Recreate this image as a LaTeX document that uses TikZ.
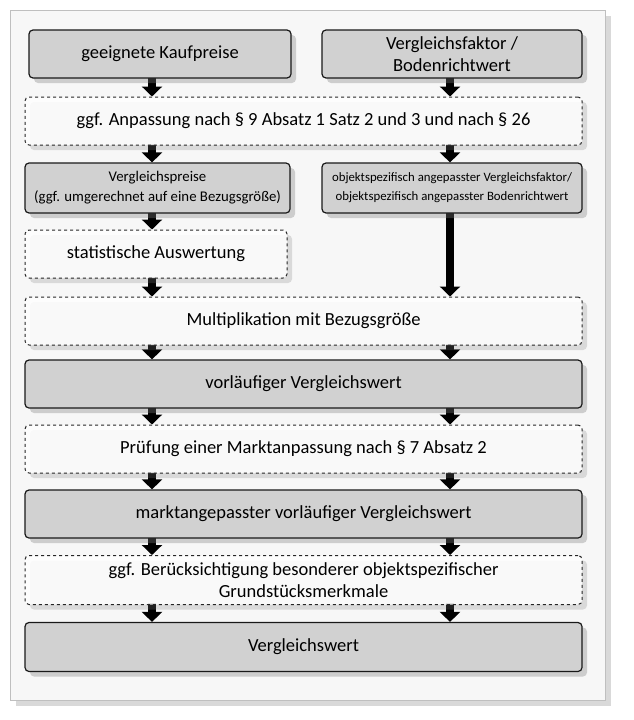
\documentclass[tikz,border=0pt]{standalone}
\usepackage{fontspec}
\setmainfont{Carlito}
\usetikzlibrary{arrows.meta,positioning,backgrounds,shadows}
\begin{document}
\begin{tikzpicture}[
    x=1pt, y=-1pt,
    result/.style={rectangle, draw=black!90, line width=1.2pt, fill=black!18, rounded corners=4pt, font=\fontsize{18.5}{22}\selectfont, align=center, drop shadow={opacity=0.35, shadow xshift=5pt, shadow yshift=-5pt}},
    pass/.style={rectangle, draw=black!85, dashed, line width=1pt, fill=white, fill opacity=0.85, text opacity=1, rounded corners=4pt, font=\fontsize{18.5}{22}\selectfont, align=center, drop shadow={opacity=0.25, shadow xshift=5pt, shadow yshift=-5pt}},
    wide/.style={minimum width=557pt},
    half/.style={minimum width=262pt},
    bar/.style={line width=8pt, -{Triangle[width=20pt, length=10pt]}, shorten <=-2pt}
]
\useasboundingbox (0,0) rectangle (634,720);
\coordinate (L) at (152,0);
\coordinate (R) at (450,0);

% obere Zeile
\node[result, half, minimum height=48pt] (kauf) at (160,54) {geeignete Kaufpreise};
\node[result, minimum width=260pt, minimum height=48pt] (faktor) at (452,54) {Vergleichsfaktor /\\Bodenrichtwert};
\node[pass, wide, minimum height=48pt] (anpass) at (303.5,121) {ggf. Anpassung nach § 9 Absatz 1 Satz 2 und 3 und nach § 26};

% mittlere Zeile
\node[result, minimum width=265pt, minimum height=50pt, font=\fontsize{14.8}{20}\selectfont] (preise) at (157.5,188) {Vergleichspreise\\(ggf. umgerechnet auf eine Bezugsgröße)};
\node[result, minimum width=260pt, minimum height=50pt, font=\fontsize{12.8}{19}\selectfont] (objekt) at (452,188) {objektspezifisch angepasster Vergleichsfaktor/\\objektspezifisch angepasster Bodenrichtwert};
\node[pass, minimum width=262pt, minimum height=48pt] (stat) at (156,254) {statistische Auswertung};

% untere Zeilen
\node[pass, wide, minimum height=48pt] (multi) at (303.5,321) {Multiplikation mit Bezugsgröße};
\node[result, wide, minimum height=48pt] (vorl) at (303.5,384) {vorläufiger Vergleichswert};
\node[pass, wide, minimum height=48pt] (pruef) at (303.5,449) {Prüfung einer Marktanpassung nach § 7 Absatz 2};
\node[result, wide, minimum height=48pt] (markt) at (303.5,514) {marktangepasster vorläufiger Vergleichswert};
\node[pass, wide, minimum height=49pt] (beruck) at (303.5,580) {ggf. Berücksichtigung besonderer objektspezifischer\\Grundstücksmerkmale};
\node[result, wide, minimum height=49pt] (wert) at (303.5,647) {Vergleichswert};

% Rahmen und Pfeile (hinter den Kaesten)
\begin{scope}[on background layer]
\fill[black!15] (16,16) rectangle (611,706);
\draw[black!25, fill=black!3, line width=1pt] (10,10) rectangle (605,700);
\draw[bar] (kauf.south -| L) -- (anpass.north -| L);
\draw[bar] (anpass.south -| L) -- (preise.north -| L);
\draw[bar] (preise.south -| L) -- (stat.north -| L);
\draw[bar] (stat.south -| L) -- (multi.north -| L);
\draw[bar] (multi.south -| L) -- (vorl.north -| L);
\draw[bar] (vorl.south -| L) -- (pruef.north -| L);
\draw[bar] (pruef.south -| L) -- (markt.north -| L);
\draw[bar] (markt.south -| L) -- (beruck.north -| L);
\draw[bar] (beruck.south -| L) -- (wert.north -| L);
\draw[bar] (faktor.south -| R) -- (anpass.north -| R);
\draw[bar] (anpass.south -| R) -- (objekt.north -| R);
\draw[bar] (objekt.south -| R) -- (multi.north -| R);
\draw[bar] (multi.south -| R) -- (vorl.north -| R);
\draw[bar] (vorl.south -| R) -- (pruef.north -| R);
\draw[bar] (pruef.south -| R) -- (markt.north -| R);
\draw[bar] (markt.south -| R) -- (beruck.north -| R);
\draw[bar] (beruck.south -| R) -- (wert.north -| R);
\end{scope}
\end{tikzpicture}
\end{document}
